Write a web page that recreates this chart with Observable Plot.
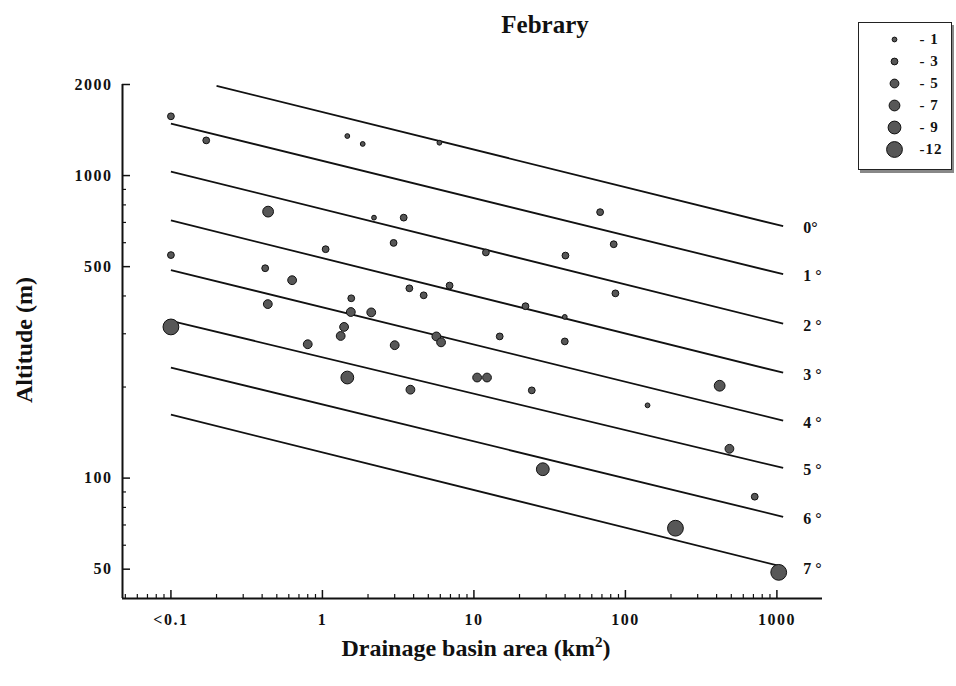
<!DOCTYPE html>
<html><head><meta charset="utf-8">
<script src="https://cdn.jsdelivr.net/npm/d3@7"></script>
<script src="https://cdn.jsdelivr.net/npm/@observablehq/plot@0.6"></script>
<style>
body{margin:0;background:#fff;}
#wrap{position:relative;width:956px;height:686px;font-family:"Liberation Serif","Times New Roman",serif;font-weight:bold;color:#111;}
.abs{position:absolute;white-space:nowrap;line-height:1;}
#title{left:545px;top:12px;transform:translateX(-50%);font-size:25px;}
#xtitle{left:476px;top:636px;transform:translateX(-50%);font-size:24px;}
#xtitle sup{font-size:15px;vertical-align:9px;line-height:0;}
#ytitle{left:24px;top:340px;transform:translate(-50%,-50%) rotate(-90deg);font-size:24px;}
#legend{left:858px;top:22px;width:92px;height:146px;border:1.5px solid #222;box-shadow:2px 3px 0 #888;background:#fff;}
#chart svg [aria-label="x-axis tick label"] text, #chart svg [aria-label="y-axis tick label"] text{letter-spacing:1.5px;}
#legend svg text{letter-spacing:1px;}
</style></head>
<body>
<div id="wrap">
  <div id="chart" class="abs" style="left:0;top:0"></div>
  <div id="title" class="abs">Febrary</div>
  <div id="xtitle" class="abs">Drainage basin area (km<sup>2</sup>)</div>
  <div id="ytitle" class="abs">Altitude (m)</div>
  <div id="legend" class="abs"></div>
</div>
<script>
// ---- data: stations (drainage basin area km², altitude m, temperature class) ----
const areaKm2 = [0.1, 0.171, 1.46, 1.845, 5.92, 0.438, 2.19, 3.44, 68.1, 83.7, 2.95, 1.05, 12.0, 40.2, 0.1, 0.419, 0.631, 3.75, 4.66, 6.91, 85.9, 1.55, 21.9, 39.8, 0.436, 1.54, 2.10, 0.1, 1.39, 1.32, 0.80, 3.0, 5.65, 6.07, 14.8, 39.8, 1.46, 3.81, 10.5, 12.2, 24.1, 140, 419, 486, 28.5, 714, 214, 1028];
const altitudeM = [1570, 1307, 1351, 1272, 1284, 760, 726, 726, 757, 593, 599, 571, 557, 544, 546, 494, 451, 424, 402, 433, 408, 393, 370, 341, 376, 354, 353, 316, 316, 295, 277, 275, 294, 281, 294, 283, 215, 196, 215, 215, 195, 174, 202, 125, 107, 86.8, 68.3, 48.8];
const tempClass = [-3,-3,-1,-1,-1, -7,-1,-3,-3,-3, -3,-3,-3,-3,-3, -3,-5,-3,-3,-3, -3,-3,-3,-1,-5, -5,-5,-12,-5,-5, -5,-5,-5,-5,-3, -3,-9,-5,-5,-5, -3,-1,-7,-5,-9, -3,-12,-12];

// ---- isotherm lines ----
const isoLabels   = ["0°", "1 °", "2 °", "3 °", "4 °", "5 °", "6 °", "7 °"];
const isoStartArea = [0.2, 0.1, 0.1, 0.1, 0.1, 0.1, 0.1, 0.1];
const isoStartAlt  = [1980, 1486, 1031, 711, 487, 331, 232, 162];
const isoEndArea   = [1100, 1100, 1100, 1100, 1100, 1100, 1100, 1100];
const isoEndAlt    = [680, 472, 324, 223, 155, 108, 74.5, 50.9];

// ---- legend ----
const legendValues = [-1, -3, -5, -7, -9, -12];
const legendLabels = ["- 1", "- 3", "- 5", "- 7", "- 9", "-12"];

// ---- ticks ----
const xMajor = [0.1, 1, 10, 100, 1000];
const xLabels = ["<0.1", "1", "10", "100", "1000"];
const xMinor = [0.05,0.06,0.07,0.08,0.09, 0.2,0.3,0.4,0.5,0.6,0.7,0.8,0.9, 2,3,4,5,6,7,8,9, 20,30,40,50,60,70,80,90, 200,300,400,500,600,700,800,900];
const yMajor = [50, 100, 500, 1000, 2000];
const yMinor = [60, 70, 80, 90, 200, 300, 400, 600, 700, 800, 900];

const points = areaKm2.map((a, i) => ({area: a, alt: altitudeM[i], t: tempClass[i]}));
const isotherms = isoLabels.map((l, i) => ({label: l, x1: isoStartArea[i], y1: isoStartAlt[i], x2: isoEndArea[i], y2: isoEndAlt[i]}));

const W = 956, H = 686, mL = 122, mR = 134, mT = 84, mB = 88;
const plotW = W - mL - mR, plotH = H - mT - mB;
const xDomain = [0.0479, 2000], yDomain = [40, 2000];
const rScale = {type: "linear", domain: [1, 12], range: [2.4, 7.9]};
const dotFill = "#575757", dotStroke = "#111";

const chart = Plot.plot({
  width: W, height: H,
  marginLeft: mL, marginRight: mR, marginTop: mT, marginBottom: mB,
  x: {type: "log", domain: xDomain},
  y: {type: "log", domain: yDomain},
  r: rScale,
  style: {fontFamily: "'Liberation Serif', serif", fontWeight: "bold", fontSize: "16px", color: "#111", background: "transparent"},
  marks: [
    Plot.link(isotherms, {x1: "x1", y1: "y1", x2: "x2", y2: "y2", stroke: "#111", strokeWidth: 1.8}),
    Plot.text(isotherms, {x: "x2", y: "y2", text: "label", textAnchor: "start", dx: 20, dy: 2, fontSize: 16, fontWeight: "bold"}),
    Plot.dot(points, {x: "area", y: "alt", r: d => -d.t, fill: dotFill, stroke: dotStroke, strokeWidth: 1}),
    Plot.tickX(xMajor, {x: d => d, insetTop: plotH - 8, strokeWidth: 1.5, stroke: "#111"}),
    Plot.tickX(xMinor.filter(v => v > xDomain[0]), {x: d => d, insetTop: plotH - 4, strokeWidth: 1.2, stroke: "#111"}),
    Plot.tickY(yMajor, {y: d => d, insetRight: plotW - 8, strokeWidth: 1.5, stroke: "#111"}),
    Plot.tickY(yMinor, {y: d => d, insetRight: plotW - 4, strokeWidth: 1.2, stroke: "#111"}),
    Plot.ruleX([xDomain[0]], {stroke: "#111", strokeWidth: 2}),
    Plot.ruleY([yDomain[0]], {stroke: "#111", strokeWidth: 2}),
    Plot.axisX(xMajor, {tickSize: 0, tickPadding: 15, tickFormat: d => xLabels[xMajor.indexOf(d)], label: null, fontSize: 16}),
    Plot.axisY(yMajor, {tickSize: 0, tickPadding: 10, tickFormat: d => String(d), label: null, fontSize: 16})
  ]
});
document.getElementById("chart").appendChild(chart);

const legend = Plot.plot({
  width: 92, height: 146,
  marginLeft: 0, marginRight: 0, marginTop: 14, marginBottom: 19,
  y: {type: "point", domain: legendValues, padding: 0, axis: null},
  r: rScale,
  style: {fontFamily: "'Liberation Serif', serif", fontWeight: "bold", fontSize: "15px", color: "#111", background: "transparent"},
  marks: [
    Plot.dot(legendValues, {y: d => d, r: d => -d, frameAnchor: "left", dx: 35, fill: dotFill, stroke: dotStroke, strokeWidth: 1}),
    Plot.text(legendValues, {y: d => d, text: d => legendLabels[legendValues.indexOf(d)], frameAnchor: "left", dx: 60, textAnchor: "start", fontSize: 15, fontWeight: "bold"})
  ]
});
document.getElementById("legend").appendChild(legend);
</script>
</body></html>
